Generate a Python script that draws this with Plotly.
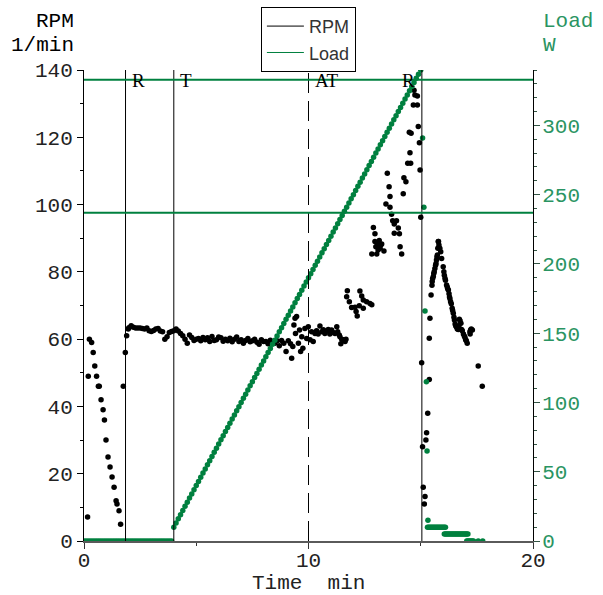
import numpy as np
import plotly.graph_objects as go

# ---------------- data ----------------
# RPM samples (time in min, rpm in 1/min)
t_rpm = [
    0.16, 0.19, 0.24, 0.34, 0.41, 0.48, 0.56, 0.64, 0.68, 0.76, 0.85, 0.91, 0.98,
    1.07, 1.16, 1.25, 1.34, 1.43, 1.47, 1.56, 1.63, 1.75, 1.84, 1.90, 1.97,
    2.0, 2.1, 2.2, 2.3, 2.4, 2.5, 2.6, 2.7, 2.8, 2.9, 3.0, 3.1, 3.2, 3.3, 3.4,
    3.5, 3.6, 3.7, 3.8, 3.9, 4.0, 4.1, 4.2, 4.3, 4.4, 4.5, 4.6, 4.7, 4.8, 4.9,
    5.0, 5.1, 5.2, 5.3, 5.4, 5.5, 5.6, 5.7, 5.8, 5.9, 6.0, 6.1, 6.2, 6.3, 6.4,
    6.5, 6.6, 6.7, 6.8, 6.9, 7.0, 7.1, 7.2, 7.3, 7.4, 7.5, 7.6, 7.7, 7.8, 7.9,
    8.0, 8.1, 8.2, 8.3, 8.4, 8.5, 8.6, 8.7, 8.8, 8.9, 9.0, 9.1, 9.2, 9.3,
    9.25, 9.35, 9.40, 9.42, 9.47, 9.55, 9.60, 9.65, 9.70, 9.75, 9.84, 9.92, 9.99,
    10.07, 10.14, 10.21, 10.29, 10.36, 10.43, 10.51, 10.59, 10.66, 10.73, 10.80,
    10.88, 10.95, 11.03, 11.10, 11.18, 11.26, 11.30, 11.37, 11.40, 11.44, 11.48,
    11.55, 11.63, 11.67,
    11.70, 11.73, 11.82, 11.92, 12.07, 12.12, 12.17, 12.26, 12.29, 12.37, 12.44,
    12.44, 12.59, 12.74, 12.82,
    12.82, 12.89, 12.96, 12.96, 13.00, 13.04, 13.07, 13.10, 13.15, 13.19, 13.22,
    13.26, 13.36,
    13.45, 13.51, 13.59, 13.63, 13.63, 13.70, 13.75, 13.82, 13.82, 13.92, 14.00,
    14.05, 14.08, 14.15, 14.22, 14.25, 14.34, 14.42, 14.49, 14.52, 14.55, 14.57,
    14.67, 14.70, 14.74, 14.85, 14.85, 14.89, 14.94, 14.97, 15.00,
    15.04, 15.08, 15.11, 15.16, 15.19, 15.23, 15.26, 15.31, 15.38, 15.38, 15.41,
    15.46, 15.50, 15.51, 15.53, 15.56, 15.58, 15.60, 15.63, 15.66, 15.68, 15.70,
    15.72, 15.74, 15.76, 15.78, 15.79, 15.81, 15.85, 15.89, 15.93, 16.00, 16.03,
    16.05, 16.08, 16.10, 16.15, 16.18, 16.20, 16.23, 16.26, 16.28, 16.30, 16.33,
    16.36, 16.40, 16.42, 16.45, 16.48, 16.50, 16.53, 16.56, 16.60, 16.63, 16.67,
    16.70, 16.72, 16.75, 16.79, 16.82, 16.85, 16.90, 16.94, 16.97, 17.00, 17.03,
    17.07, 17.19, 17.20, 17.22, 17.25, 17.30, 17.56, 17.74,
]
rpm = [
    7.1, 49, 60, 59, 56, 52, 49, 46, 46, 42, 39, 36, 30,
    25, 22, 19, 16, 12, 11, 9, 5, 46, 56, 61, 63,
    63.4, 64, 63.5, 63.3, 63.3, 63.3, 63.2, 63.0, 63.3, 62.5, 62.3, 62.6, 63.0, 63.2, 62.4,
    62.2, 60.0, 60.7, 62.0, 62.3, 62.5, 63.0, 62.4, 61.7, 61.0, 60.0, 58.8, 61.2, 60.5, 59.6,
    60.0, 60.2, 59.5, 60.5, 59.8, 60.4, 59.3, 60.8, 59.6, 59.8, 60.6, 60.4, 59.4, 60.0, 59.5,
    60.3, 59.2, 60.0, 60.6, 59.3, 59.8, 58.8, 59.6, 60.2, 59.2, 59.5, 60.0, 59.1, 58.5, 59.8,
    59.3, 59.3, 58.6, 59.7, 59.0, 58.8, 59.5, 58.0, 59.6, 58.8, 56.3, 59.5, 58.6, 57.8,
    54.3, 64.2, 66.2, 61.7, 66.7, 58.8, 62.7, 56.3, 60.7, 57.3, 63.2, 60.2, 63.7,
    59.8, 62.2, 59.3, 61.7, 62.5, 61.5, 63.9, 62.2, 62.8, 61.7, 62.4,
    62.9, 61.5, 62.7, 62.0, 61.7, 63.7, 62.2, 61.2, 60.7, 58.6, 60.0,
    59.8, 59.3, 60.0,
    72.6, 74.4, 71.1, 69.4, 69.5, 68.2, 66.9, 69.9, 74.3, 72.8, 71.6,
    69.2, 71.1, 70.6, 70.2,
    85.3, 93.2, 91.3, 89.0, 87.5, 85.3, 88.3, 86.5, 89.3, 87.0, 88.0,
    88.3, 86.2,
    100.2, 109.3, 105.3, 102.4, 99.2, 97.1, 95.2, 94.2, 91.5, 95.2, 93.0,
    91.3, 87.5, 85.3, 103.2, 108.0, 106.8, 112.3, 121.5, 115.4, 112.3, 121.2,
    129.6, 134.0, 132.6, 132.3, 129.6, 123.2, 118.4, 110.3, 96.2,
    53, 28, 16, 11, 13.2, 30, 32.2, 38, 48, 60.3, 66.2,
    73.1, 76.0, 77.1, 78.0, 78.6, 79.5, 80.0, 81.0, 82.0, 82.5, 83.5,
    84.5, 85.0, 87.0, 89.0, 89.0, 88.0, 87.0, 86.0, 84.0, 81.5, 80.0,
    79.0, 78.1, 77.5, 76.1, 75.5, 75.0, 74.6, 73.5, 72.5, 72.0, 71.1,
    70.5, 69.2, 68.5, 67.7, 66.5, 65.7, 64.5, 63.9, 63.5, 63.0, 62.9,
    64.0, 65.9, 65.5, 64.7, 62.9, 62.5, 61.5, 60.9, 60.5, 59.8, 59.5,
    58.8, 62.2, 61.5, 62.7, 63.0, 62.7, 52, 46,
]

# Load samples (W)
load_idle = [0] * 40                      # 0.0 .. 3.9 min, read as 0 W
t_idle = list(np.round(np.arange(0.0, 4.0, 0.1), 2))
load_ramp = [
    10, 13, 16, 19, 22, 25, 28, 31, 34, 37,
    40, 43, 46, 49, 52, 55, 58, 61, 64, 67,
    70, 73, 76, 79, 82, 85, 88, 91, 94, 97,
    100, 103, 106, 109, 112, 115, 118, 121, 124, 127,
    130, 133, 136, 139, 142, 145, 148, 151, 154, 157,
    160, 163, 166, 169, 172, 175, 178, 181, 184, 187,
    190, 193, 196, 199, 202, 205, 208, 211, 214, 217,
    220, 223, 226, 229, 232, 235, 238, 241, 244, 247,
    250, 253, 256, 259, 262, 265, 268, 271, 274, 277,
    280, 283, 286, 289, 292, 295, 298, 301, 304, 307,
    310, 313, 316, 319, 322, 325, 328, 331, 334, 337,
    340,
]
t_ramp = list(np.round(4.0 + 0.1 * np.arange(len(load_ramp)), 2))
t_drop = [15.08, 15.14, 15.19, 15.25, 15.28, 15.32]
load_drop = [291, 241, 166, 115, 65, 15]
t_rec = list(np.round(np.arange(15.30, 16.12, 0.05), 2)) + \
        list(np.round(np.arange(16.05, 17.12, 0.05), 2)) + \
        list(np.round(np.arange(17.05, 17.36, 0.05), 2)) + [17.56, 17.76]
load_rec = [10] * 17 + [5] * 22 + [0] * 7 + [0, 0]

t_load = t_idle + t_ramp + t_drop + t_rec[:len(load_rec)]
load = load_idle + load_ramp + load_drop + load_rec

# event markers (min)
event_labels = ["R", "T", "AT", "R"]
event_times = [1.85, 4.0, 10.0, 15.05]
# load limit lines (W)
load_limits = [333, 237]

GREEN = "#00803f"
GREEN_TXT = "#2a9462"
MONO = "Liberation Mono, Courier New, monospace"

fig = go.Figure()
fig.add_trace(go.Scatter(x=t_rpm, y=rpm, mode="markers",
                         marker=dict(color="black", size=5.5),
                         showlegend=False, yaxis="y"))
fig.add_trace(go.Scatter(x=t_load, y=load, mode="markers",
                         marker=dict(color=GREEN, size=5.5),
                         showlegend=False, yaxis="y2"))
# legend entries
fig.add_trace(go.Scatter(x=[None], y=[None], mode="lines",
                         line=dict(color="black", width=1), name="RPM"))
fig.add_trace(go.Scatter(x=[None], y=[None], mode="lines",
                         line=dict(color=GREEN, width=1), name="Load", yaxis="y2"))

shapes = []
for lab, t in zip(event_labels, event_times):
    shapes.append(dict(type="line", xref="x", yref="paper", x0=t, x1=t, y0=0, y1=1,
                       line=dict(color="black", width=1,
                                 dash="20px,8px" if lab == "AT" else "solid")))
for v in load_limits:
    shapes.append(dict(type="line", xref="paper", yref="y2", x0=0, x1=1, y0=v, y1=v,
                       line=dict(color=GREEN, width=2)))

annotations = []
for i, (lab, t) in enumerate(zip(event_labels, event_times)):
    last = i == len(event_labels) - 1
    annotations.append(dict(text=lab, x=t, xref="x", y=0.977, yref="paper",
                            xanchor="right" if last else "left", yanchor="middle",
                            xshift=-5 if last else 4, showarrow=False,
                            font=dict(family="Liberation Serif, Times New Roman, serif",
                                      size=19, color="black")))
annotations += [
    dict(text="RPM", x=-0.018, y=1.102, xref="paper", yref="paper", xanchor="right",
         yanchor="middle", showarrow=False, font=dict(family=MONO, size=21, color="black")),
    dict(text="1/min", x=-0.018, y=1.053, xref="paper", yref="paper", xanchor="right",
         yanchor="middle", showarrow=False, font=dict(family=MONO, size=21, color="black")),
    dict(text="Load", x=1.018, y=1.102, xref="paper", yref="paper", xanchor="left",
         yanchor="middle", showarrow=False, font=dict(family=MONO, size=21, color=GREEN_TXT)),
    dict(text="W", x=1.018, y=1.053, xref="paper", yref="paper", xanchor="left",
         yanchor="middle", showarrow=False, font=dict(family=MONO, size=21, color=GREEN_TXT)),
    dict(text="Time  min", x=0.5, y=-0.091, xref="paper", yref="paper", xanchor="center",
         yanchor="middle", showarrow=False, font=dict(family=MONO, size=21, color="#222")),
]

fig.update_layout(
    width=603, height=595,
    margin=dict(l=84, r=70, t=70, b=54, pad=0, autoexpand=False),
    paper_bgcolor="white", plot_bgcolor="white",
    shapes=shapes, annotations=annotations,
    legend=dict(x=0.394, y=1.134, xanchor="left", yanchor="top",
                bgcolor="white", bordercolor="black", borderwidth=1,
                tracegroupgap=0, itemwidth=37,
                font=dict(family="Liberation Sans, Arial, sans-serif",
                          size=18, color="#333")),
    xaxis=dict(range=[0, 20], dtick=10, tick0=0, showgrid=False, zeroline=False,
               automargin=False,
               showline=True, linecolor="#5a5a5a", linewidth=2,
               ticks="outside", ticklen=6, tickcolor="#333",
               minor=dict(dtick=5, ticklen=3, ticks="outside", tickcolor="#333"),
               tickfont=dict(family=MONO, size=21, color="#222"),
               ticklabelstandoff=-7),
    yaxis=dict(range=[0, 140], dtick=20, showgrid=False, zeroline=False,
               automargin=False,
               showline=True, linecolor="black", linewidth=1,
               ticks="outside", ticklen=6, tickcolor="black",
               minor=dict(dtick=10, ticklen=3, ticks="outside", tickcolor="black"),
               tickfont=dict(family=MONO, size=21, color="#222")),
    yaxis2=dict(range=[0, 340], dtick=50, overlaying="y", side="right",
                showgrid=False, zeroline=False, automargin=False,
                showline=True, linecolor="black", linewidth=1,
                ticks="outside", ticklen=6, tickcolor="#335544",
                minor=dict(dtick=10, ticklen=3, ticks="outside", tickcolor="#335544"),
                tickfont=dict(family=MONO, size=21, color=GREEN_TXT),
                ticklabelstandoff=-2),
)

fig.write_html("out.html", config={"displayModeBar": False},
               post_script="document.body.style.margin='0';")
